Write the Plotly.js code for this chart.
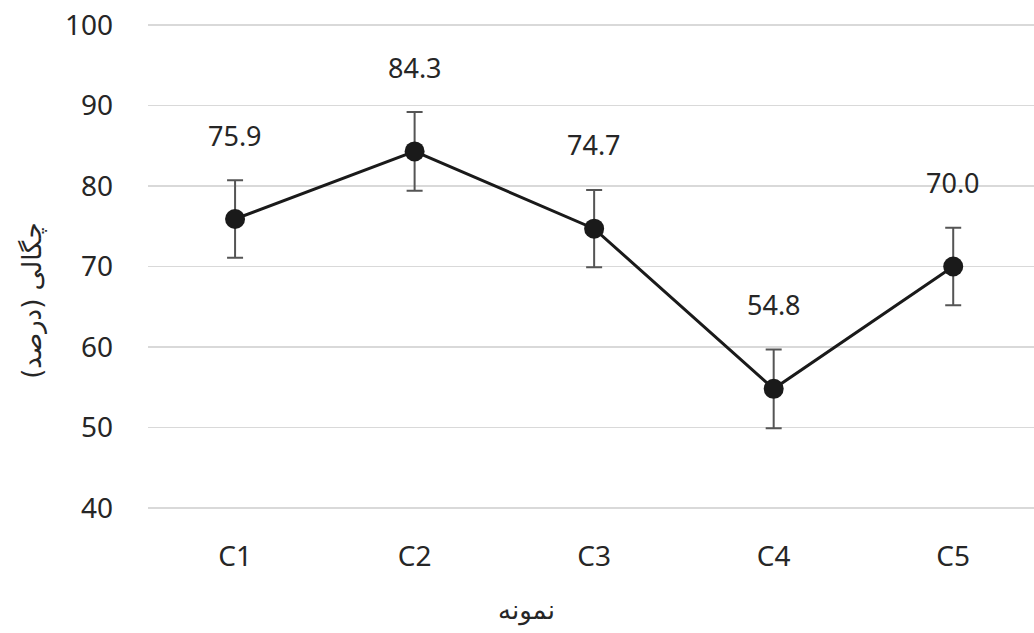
<!DOCTYPE html>
<html>
<head>
<meta charset="utf-8">
<script src="https://cdn.plot.ly/plotly-3.0.1.min.js"></script>
<style>html,body{margin:0;padding:0;background:#fff;}#chart{width:1034px;height:633px;}</style>
</head>
<body>
<div id="chart"></div>
<script>
var categories = ["C1", "C2", "C3", "C4", "C5"];
var values = [75.9, 84.3, 74.7, 54.8, 70.0];
var errors = [4.8, 4.9, 4.8, 4.9, 4.8];
var yTickVals = [40, 50, 60, 70, 80, 90, 100];
var xTitle = "نمونه";
var yTitle = "چگالی (درصد)";

var trace = {
  type: "scatter",
  mode: "lines+markers",
  x: categories,
  y: values,
  line: {color: "#1a1a1a", width: 3},
  marker: {color: "#1a1a1a", size: 20},
  error_y: {type: "data", array: errors, visible: true, color: "#555555", thickness: 2, width: 8},
  hoverinfo: "none",
  cliponaxis: false
};

var annotations = values.map(function(v, i){
  return {
    x: categories[i], y: v, xref: "x", yref: "y",
    text: v.toFixed(1), showarrow: false, yshift: 84,
    font: {family: "Noto Sans, Open Sans, sans-serif", size: 27, color: "#262626"}
  };
});
annotations.push({
  xref: "paper", yref: "paper", x: 0.427, y: -0.2, xanchor: "center", yanchor: "middle",
  text: xTitle, showarrow: false,
  font: {family: "DejaVu Sans, sans-serif", size: 26, color: "#262626"}
});
annotations.push({
  xref: "paper", yref: "paper", x: -0.131, y: 0.43, xanchor: "center", yanchor: "middle",
  text: yTitle, showarrow: false, textangle: -90,
  font: {family: "DejaVu Sans, sans-serif", size: 26, color: "#262626"}
});

var layout = {
  width: 1034, height: 633,
  margin: {l: 148, r: 0, t: 20.5, b: 120.5, pad: 0},
  paper_bgcolor: "#ffffff", plot_bgcolor: "#ffffff",
  showlegend: false,
  font: {family: "Noto Sans, Open Sans, sans-serif", color: "#262626"},
  xaxis: {
    type: "category", range: [-0.485, 4.45],
    showgrid: false, zeroline: false, showline: false,
    ticks: "", ticklabelstandoff: 25,
    tickfont: {size: 28, color: "#262626"}, fixedrange: true
  },
  yaxis: {
    range: [39.5, 100.5], tickvals: yTickVals,
    showgrid: true, gridcolor: "#d9d9d9", gridwidth: 1.5,
    zeroline: false, showline: false, ticks: "", ticklabelstandoff: 34,
    tickfont: {size: 28, color: "#262626"}, fixedrange: true
  },
  annotations: annotations
};

Plotly.newPlot("chart", [trace], layout, {staticPlot: true, displayModeBar: false});
</script>
</body>
</html>
